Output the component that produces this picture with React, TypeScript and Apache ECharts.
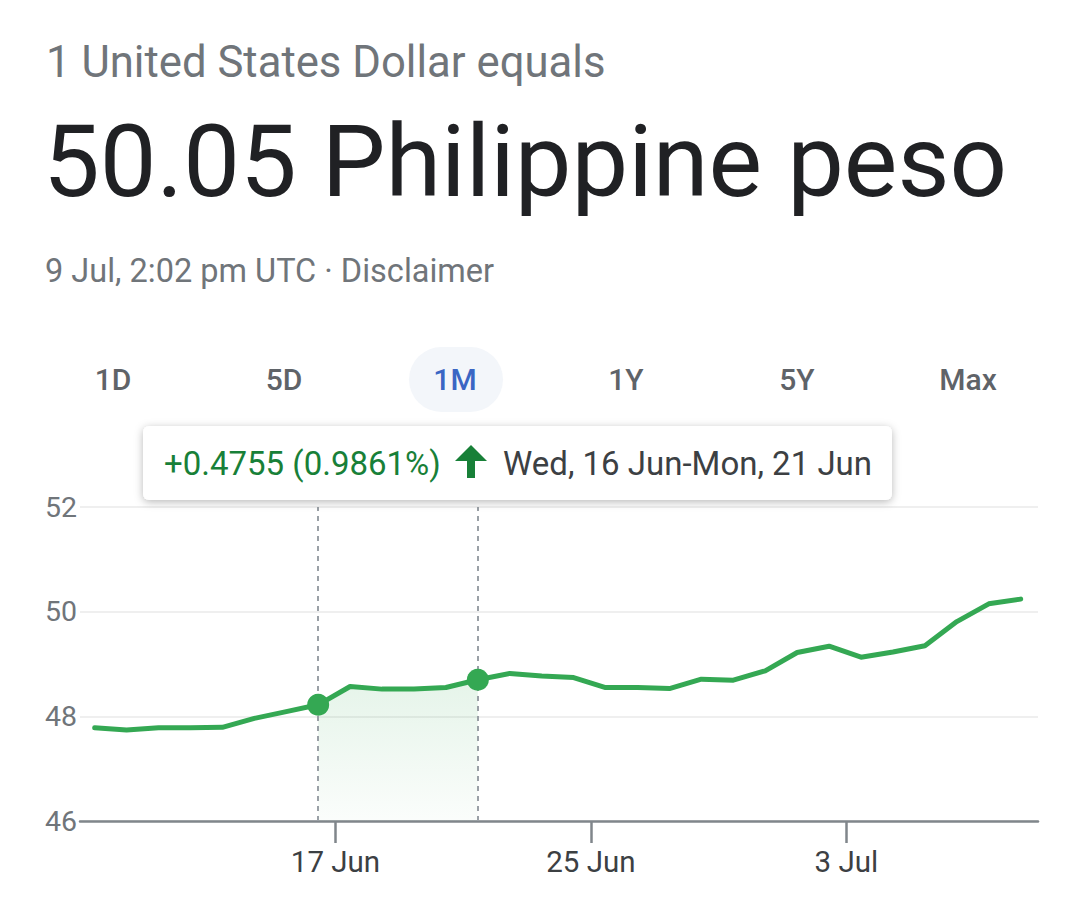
import React, { useEffect, useRef } from "react";
import * as echarts from "echarts";

// ---- data ----
const dates = [
  "2021-06-09", "2021-06-10", "2021-06-11", "2021-06-12", "2021-06-13", "2021-06-14",
  "2021-06-15", "2021-06-16", "2021-06-17", "2021-06-18", "2021-06-19", "2021-06-20",
  "2021-06-21", "2021-06-22", "2021-06-23", "2021-06-24", "2021-06-25", "2021-06-26",
  "2021-06-27", "2021-06-28", "2021-06-29", "2021-06-30", "2021-07-01", "2021-07-02",
  "2021-07-03", "2021-07-04", "2021-07-05", "2021-07-06", "2021-07-07", "2021-07-08",
];
const rates = [
  47.78, 47.74, 47.78, 47.78, 47.79, 47.96,
  48.09, 48.22, 48.57, 48.52, 48.52, 48.55,
  48.70, 48.82, 48.77, 48.74, 48.55, 48.55,
  48.53, 48.71, 48.69, 48.87, 49.22, 49.34,
  49.13, 49.23, 49.35, 49.81, 50.15, 50.24,
];
const quoteHourUTC = 11;
const axisStartDate = "2021-06-09";
const axisEndDate = "2021-07-09";
const xTickDates = ["2021-06-17", "2021-06-25", "2021-07-03"];
const yTicks = [46, 48, 50, 52];
const selStartDate = "2021-06-16";
const selEndDate = "2021-06-21";
const ranges = ["1D", "5D", "1M", "1Y", "5Y", "Max"];
const activeRange = "1M";
const headerLine = "1 United States Dollar equals";
const headlineText = "50.05 Philippine peso";
const stampText = "9 Jul, 2:02 pm UTC · Disclaimer";
const changeText = "+0.4755 (0.9861%)";
const periodText = "Wed, 16 Jun-Mon, 21 Jun";
const monthNames = ["Jan", "Feb", "Mar", "Apr", "May", "Jun", "Jul", "Aug", "Sep", "Oct", "Nov", "Dec"];

const DAY_MS = 86400000;
// day number (days since epoch, UTC)
const dayNum = (s: string) => {
  const [y, m, d] = s.split("-").map(Number);
  return Date.UTC(y, m - 1, d) / DAY_MS;
};
const quoteDay = (s: string) => dayNum(s) + quoteHourUTC / 24;

const GREEN = "#34a853";
const FONT = "Roboto, 'Noto Sans', Arial, sans-serif";

function txt(text: string, x: number, y: number, size: number, fill: string, weight = "normal", align = "left") {
  return {
    type: "text",
    silent: true,
    style: {
      text,
      x,
      y,
      fill,
      font: `${weight} ${size}px ${FONT}`,
      align,
      verticalAlign: "middle",
      textAlign: align,
      textVerticalAlign: "middle",
    },
  };
}

export default function App() {
  const ref = useRef<HTMLDivElement>(null);

  useEffect(() => {
    if (!ref.current) return;
    const chart = echarts.init(ref.current, undefined, { renderer: "svg" });

    const lineData = dates.map((d, i) => [quoteDay(d), rates[i]]);
    const i0 = dates.indexOf(selStartDate);
    const i1 = dates.indexOf(selEndDate);
    const areaData = lineData.slice(i0, i1 + 1);
    const selIdx = [i0, i1];
    const markerData = selIdx.map((i) => lineData[i]);
    const xTicks = xTickDates.map(dayNum);

    const graphics: any[] = [
      txt(headerLine, 46, 62, 43.7, "#70757a"),
      txt(headlineText, 43, 161, 101, "#202124"),
      txt(stampText, 45, 271, 32.5, "#70757a"),
      {
        type: "rect",
        silent: true,
        shape: { x: 409, y: 347, width: 94, height: 65, r: 32.5 },
        style: { fill: "#f3f6fa" },
      },
      ...ranges.map((r, i) =>
        txt(r, 113 + i * 171, 379, 30, r === activeRange ? "#3a66c4" : "#5f6368", "500", "center")
      ),
      {
        type: "rect",
        silent: true,
        z: 100,
        shape: { x: 143, y: 426, width: 749, height: 74, r: 6 },
        style: {
          fill: "#ffffff",
          shadowBlur: 8,
          shadowColor: "rgba(0,0,0,0.28)",
          shadowOffsetY: 2,
        },
      },
      { ...txt(changeText, 164, 463, 33, "#188038"), z: 101 },
      {
        type: "polygon",
        silent: true,
        z: 101,
        shape: {
          points: [
            [471, 445], [487, 461], [475, 461], [475, 478],
            [467, 478], [467, 461], [455, 461],
          ],
        },
        style: { fill: "#188038" },
      },
      { ...txt(periodText, 503, 463, 33, "#3c4043"), z: 101 },
    ];

    chart.setOption({
      animation: false,
      backgroundColor: "#ffffff",
      grid: { left: 80, right: 42, top: 507, bottom: 77, containLabel: false },
      graphic: graphics,
      xAxis: {
        type: "value",
        min: dayNum(axisStartDate),
        max: dayNum(axisEndDate),
        axisLine: { show: true, onZero: false, lineStyle: { color: "#80868b", width: 2.5 } },
        axisTick: {
          show: true,
          length: 22,
          lineStyle: { color: "#80868b", width: 2.5 },
          customValues: xTicks,
        },
        axisLabel: {
          show: true,
          customValues: xTicks,
          margin: 26,
          fontSize: 29.5,
          fontFamily: FONT,
          color: "#3c4043",
          formatter: (v: number) => {
            const d = new Date(Math.round(v) * DAY_MS);
            return `${d.getUTCDate()} ${monthNames[d.getUTCMonth()]}`;
          },
        },
        splitLine: { show: false },
      },
      yAxis: {
        type: "value",
        min: yTicks[0],
        max: yTicks[yTicks.length - 1],
        interval: yTicks[1] - yTicks[0],
        axisLine: { show: false },
        axisTick: { show: false },
        axisLabel: { fontSize: 28.5, fontFamily: FONT, color: "#70757a", margin: 3 },
        splitLine: { show: true, lineStyle: { color: "#efefef", width: 2 } },
      },
      series: [
        {
          type: "line",
          data: areaData,
          symbol: "none",
          silent: true,
          lineStyle: { width: 0, opacity: 0 },
          areaStyle: {
            color: new echarts.graphic.LinearGradient(0, 0, 0, 1, [
              { offset: 0, color: "rgba(52,168,83,0.18)" },
              { offset: 1, color: "rgba(52,168,83,0.03)" },
            ]),
          },
          z: 1,
        },
        {
          type: "line",
          data: lineData,
          silent: true,
          symbol: "none",
          lineStyle: { color: GREEN, width: 5, join: "round", cap: "round" },
          z: 3,
          markLine: {
            silent: true,
            symbol: ["none", "none"],
            label: { show: false },
            lineStyle: { color: "#9aa0a6", width: 2, type: [5, 5] },
            data: selIdx.map((i) => [
              { coord: [lineData[i][0], yTicks[0]] },
              { coord: [lineData[i][0], yTicks[yTicks.length - 1]] },
            ]),
          },
        },
        {
          type: "scatter",
          data: markerData,
          silent: true,
          symbol: "circle",
          symbolSize: 22,
          itemStyle: { color: GREEN, opacity: 1, borderWidth: 0 },
          z: 5,
        },
      ],
    });

    return () => chart.dispose();
  }, []);

  return (
    <div
      ref={ref}
      style={{ position: "fixed", left: 0, top: 0, width: 1080, height: 898, background: "#fff" }}
    />
  );
}
